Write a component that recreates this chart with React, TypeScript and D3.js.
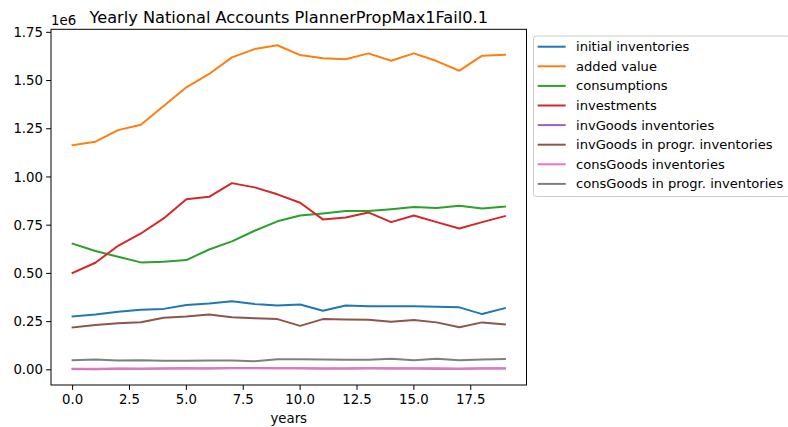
import React from "react";
import * as d3 from "d3";

const years = d3.range(0, 20);
const seriesNames = [
  "initial inventories",
  "added value",
  "consumptions",
  "investments",
  "invGoods inventories",
  "invGoods in progr. inventories",
  "consGoods inventories",
  "consGoods in progr. inventories",
];
const colors = ["#1f77b4", "#ff7f0e", "#2ca02c", "#d62728", "#9467bd", "#8c564b", "#e377c2", "#7f7f7f"];

const initialInventories = [0.277, 0.287, 0.301, 0.311, 0.316, 0.336, 0.344, 0.356, 0.341, 0.334, 0.339, 0.306, 0.334, 0.330, 0.329, 0.329, 0.327, 0.324, 0.289, 0.320];
const addedValue = [1.165, 1.183, 1.243, 1.271, 1.368, 1.465, 1.534, 1.62, 1.663, 1.683, 1.632, 1.615, 1.61, 1.641, 1.603, 1.641, 1.601, 1.551, 1.629, 1.634];
const consumptions = [0.654, 0.616, 0.586, 0.557, 0.56, 0.569, 0.624, 0.666, 0.721, 0.77, 0.80, 0.811, 0.823, 0.823, 0.833, 0.844, 0.839, 0.851, 0.837, 0.846];
const investments = [0.503, 0.555, 0.643, 0.707, 0.785, 0.885, 0.897, 0.968, 0.946, 0.91, 0.866, 0.78, 0.79, 0.816, 0.766, 0.80, 0.766, 0.733, 0.766, 0.797];
const invGoodsInventories = [0.004, 0.003, 0.005, 0.006, 0.007, 0.008, 0.007, 0.009, 0.009, 0.008, 0.008, 0.007, 0.007, 0.008, 0.007, 0.007, 0.006, 0.006, 0.007, 0.007];
const invGoodsInProgr = [0.22, 0.232, 0.241, 0.247, 0.27, 0.277, 0.287, 0.272, 0.267, 0.263, 0.228, 0.263, 0.261, 0.26, 0.249, 0.258, 0.246, 0.221, 0.246, 0.235];
const consGoodsInventories = [0.006, 0.005, 0.007, 0.006, 0.007, 0.007, 0.008, 0.008, 0.008, 0.008, 0.008, 0.007, 0.007, 0.008, 0.008, 0.008, 0.008, 0.006, 0.008, 0.008];
const consGoodsInProgr = [0.05, 0.053, 0.048, 0.05, 0.047, 0.047, 0.048, 0.048, 0.045, 0.055, 0.055, 0.053, 0.052, 0.052, 0.058, 0.05, 0.057, 0.05, 0.053, 0.056];

const allSeries = [
  initialInventories,
  addedValue,
  consumptions,
  investments,
  invGoodsInventories,
  invGoodsInProgr,
  consGoodsInventories,
  consGoodsInProgr,
];

const xTicks = [0, 2.5, 5, 7.5, 10, 12.5, 15, 17.5];
const yTicks = [0, 0.25, 0.5, 0.75, 1.0, 1.25, 1.5, 1.75];

const W = 788;
const H = 427;
const left = 51;
const right = 526.5;
const top = 29.3;
const bottom = 385;
const font = "DejaVu Sans, sans-serif";
const fs = 13.3;
const legFs = 13.1;

export default function App() {
  const x = d3.scaleLinear().domain([-0.95, 19.95]).range([left, right]);
  const y = d3.scaleLinear().domain([-0.0787, 1.7657]).range([bottom, top]);
  const line = d3
    .line<number>()
    .x((_, i) => x(years[i]))
    .y((d) => y(d));

  const legX = 533.5;
  const legY = 36;
  const legRowH = 19.6;

  return (
    <svg
      width={W}
      height={H}
      style={{ position: "fixed", left: 0, top: 0, background: "#fff" }}
      fontFamily={font}
    >
      <rect x={0} y={0} width={W} height={H} fill="#fff" />
      <defs>
        <clipPath id="plotclip">
          <rect x={left} y={top} width={right - left} height={bottom - top} />
        </clipPath>
      </defs>
      <g clipPath="url(#plotclip)">
        {allSeries.map((s, k) => (
          <path
            key={k}
            d={line(s) || ""}
            fill="none"
            stroke={colors[k]}
            strokeWidth={2}
            strokeLinejoin="round"
            strokeLinecap="square"
          />
        ))}
      </g>
      <rect x={left} y={top} width={right - left} height={bottom - top} fill="none" stroke="#000" strokeWidth={1} />
      {xTicks.map((t) => (
        <g key={"x" + t}>
          <line x1={x(t)} x2={x(t)} y1={bottom} y2={bottom + 4.9} stroke="#000" strokeWidth={1} />
          <text x={x(t)} y={bottom + 19} textAnchor="middle" fontSize={fs} fill="#000">
            {t.toFixed(1)}
          </text>
        </g>
      ))}
      {yTicks.map((t) => (
        <g key={"y" + t}>
          <line x1={left - 4.9} x2={left} y1={y(t)} y2={y(t)} stroke="#000" strokeWidth={1} />
          <text x={left - 8} y={y(t)} dy="0.35em" textAnchor="end" fontSize={fs} fill="#000">
            {t.toFixed(2)}
          </text>
        </g>
      ))}
      <text x={left} y={25} fontSize={fs} fill="#000">1e6</text>
      <text x={(left + right) / 2} y={418} dy="0.35em" textAnchor="middle" fontSize={fs} fill="#000">
        years
      </text>
      <text x={(left + right) / 2} y={22.5} textAnchor="middle" fontSize={16.2} fill="#000">
        Yearly National Accounts PlannerPropMax1Fail0.1
      </text>
      <rect
        x={legX}
        y={legY}
        width={W - legX + 2}
        height={160.5}
        rx={3}
        fill="#fff"
        fillOpacity={0.8}
        stroke="#cccccc"
        strokeWidth={1}
      />
      {seriesNames.map((n, k) => (
        <g key={n}>
          <line
            x1={537.7}
            x2={565.7}
            y1={legY + 10.7 + k * legRowH}
            y2={legY + 10.7 + k * legRowH}
            stroke={colors[k]}
            strokeWidth={2}
          />
          <text x={576} y={legY + 10.7 + k * legRowH} dy="0.35em" fontSize={legFs} fill="#000">
            {n}
          </text>
        </g>
      ))}
    </svg>
  );
}
